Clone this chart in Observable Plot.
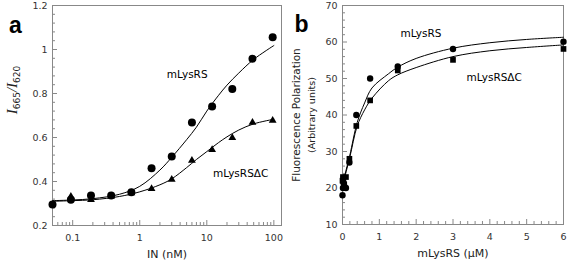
<!DOCTYPE html>
<html>
<head>
<meta charset="utf-8">
<script src="https://cdn.jsdelivr.net/npm/d3@7"></script>
<script src="https://cdn.jsdelivr.net/npm/@observablehq/plot@0.6"></script>
<style>
  html, body { margin: 0; padding: 0; background: #fff; }
  #wrap { position: relative; width: 567px; height: 264px; overflow: hidden; }
  #wrap svg { position: absolute; top: 0; }
</style>
</head>
<body>
<div id="wrap"></div>
<script>
// ---------- Panel a data ----------
const aConc = [0.05, 0.094, 0.1875, 0.375, 0.75, 1.5, 3, 6, 12, 24, 48, 96];
const aFull = [0.295, 0.317, 0.336, 0.336, 0.351, 0.46, 0.514, 0.668, 0.741, 0.821, 0.958, 1.056];
const aDeltaConc = [0.094, 0.1875, 0.375, 0.75, 1.5, 3, 6, 12, 24, 48, 96];
const aDelta = [0.332, 0.317, 0.333, 0.348, 0.367, 0.409, 0.495, 0.544, 0.599, 0.668, 0.677];
const aFitX = [0.05, 0.1, 0.2, 0.5, 1, 2, 3, 5, 7, 10, 15, 20, 30, 50, 100];
const aFitFull = [0.313, 0.316, 0.322, 0.342, 0.378, 0.452, 0.51, 0.59, 0.647, 0.72, 0.792, 0.838, 0.893, 0.955, 1.018];
const aFitDelta = [0.31, 0.313, 0.317, 0.332, 0.353, 0.385, 0.412, 0.463, 0.5, 0.536, 0.577, 0.603, 0.634, 0.662, 0.683];
const aXTicks = [0.1, 1, 10, 100];
const aXTickLabels = ["0.1", "1", "10", "100"];
const aYTicks = [0.2, 0.4, 0.6, 0.8, 1, 1.2];
const aYTickLabels = ["0.2", "0.4", "0.6", "0.8", "1", "1.2"];
const aLabels = [{x: 5.1, y: 0.886, text: "mLysRS"}, {x: 32, y: 0.436, text: "mLysRSΔC"}];

// ---------- Panel b data ----------
const bConc = [0, 0.012, 0.023, 0.047, 0.094, 0.1875, 0.375, 0.75, 1.5, 3, 6];
const bFull = [18, 20, 21.5, 20.5, 20, 27, 40, 50, 53.3, 58.1, 60.1];
const bDelta = [22, 23, 22.5, 21, 23, 28, 37, 44, 52.2, 55.1, 58.1];
const bFitX = [0, 0.1, 0.2, 0.4, 0.6, 0.8, 1.25, 1.5, 2, 3, 4, 5, 6];
const bFitFull = [20.5, 25, 29, 38, 43.3, 47.4, 51.3, 53.1, 55.5, 58.3, 59.8, 60.7, 61.3];
const bFitDelta = [20.5, 24.5, 28.5, 37, 41.4, 44.6, 49.4, 51, 53, 56, 57.6, 58.5, 59.2];
const bXTicks = [0, 1, 2, 3, 4, 5, 6];
const bYTicks = [10, 20, 30, 40, 50, 60, 70];
const bLabels = [{x: 2.13, y: 62.3, text: "mLysRS"}, {x: 4.12, y: 50.3, text: "mLysRSΔC"}];

// helpers
const pts = (xs, ys) => xs.map((x, i) => ({x, y: ys[i]}));
const range = (a, b, s) => d3.range(Math.round((b - a) / s) + 1).map(i => +(a + i * s).toFixed(6));

const axisColor = "#888";
const tickText = "#333";
const txtFont = "DejaVu Sans";

// minor ticks (log decades)
const aXMinor = [];
for (const dec of [0.01, 0.1, 1, 10, 100]) for (let k = 1; k <= 9; k++) {
  const v = +(k * dec).toPrecision(3);
  if (v >= 0.05 && v <= 130 && !aXTicks.includes(v)) aXMinor.push(v);
}
const aYMinor = range(0.2, 1.2, 0.04).filter(v => !aYTicks.some(t => Math.abs(t - v) < 1e-6));
const bXMinor = range(0, 6, 0.2).filter(v => !bXTicks.some(t => Math.abs(t - v) < 1e-6));
const bYMinor = range(10, 70, 2).filter(v => !bYTicks.some(t => Math.abs(t - v) < 1e-6));

// ---------- Panel a ----------
const plotA = Plot.plot({
  width: 290, height: 264,
  marginLeft: 52, marginRight: 9, marginTop: 5, marginBottom: 39,
  style: {fontFamily: txtFont, fontSize: "9.5px", background: "transparent"},
  x: {type: "log", domain: [0.05, 130]},
  y: {domain: [0.2, 1.2]},
  marks: [
    Plot.frame({stroke: axisColor}),
    Plot.axisX({ticks: aXMinor, tickSize: -3, tickFormat: () => "", stroke: axisColor, label: null}),
    Plot.axisX({ticks: aXTicks, tickSize: -5, tickFormat: () => "", stroke: axisColor, label: null}),
    Plot.axisX({ticks: aXTicks, tickSize: 0, tickPadding: 9, tickFormat: d => aXTickLabels[aXTicks.indexOf(d)], fill: tickText, label: null}),
    Plot.axisY({ticks: aYMinor, tickSize: -3, tickFormat: () => "", stroke: axisColor, label: null}),
    Plot.axisY({ticks: aYTicks, tickSize: -5, tickFormat: () => "", stroke: axisColor, label: null}),
    Plot.axisY({ticks: aYTicks, tickSize: 0, tickPadding: 5, tickFormat: d => aYTickLabels[aYTicks.indexOf(d)], fill: tickText, label: null}),
    Plot.line(pts(aFitX, aFitFull), {x: "x", y: "y", stroke: "#000", strokeWidth: 1, curve: "catmull-rom"}),
    Plot.line(pts(aFitX, aFitDelta), {x: "x", y: "y", stroke: "#000", strokeWidth: 1, curve: "catmull-rom"}),
    Plot.dot(pts(aDeltaConc, aDelta), {x: "x", y: "y", symbol: "triangle", r: 2.9, fill: "#000", stroke: "none"}),
    Plot.dot(pts(aConc, aFull), {x: "x", y: "y", r: 4, fill: "#000", stroke: "none"}),
    Plot.text(aLabels, {x: "x", y: "y", text: "text", fontSize: 10.5, fill: "#000", fontFamily: txtFont}),
    Plot.text(["IN (nM)"], {frameAnchor: "bottom", dy: 32, fontSize: 11, fill: "#222"}),
    Plot.text(["a"], {frameAnchor: "top-left", textAnchor: "middle", dx: -37, dy: 11, fontSize: 23, fontWeight: "bold", fontFamily: "Liberation Sans", fill: "#000"})
  ]
});
plotA.style.left = "0px";
// y-axis title with subscripts
const ta = d3.select(plotA).append("text")
  .attr("transform", "translate(17,90) rotate(-90)")
  .attr("text-anchor", "middle")
  .attr("font-family", "Liberation Serif")
  .attr("font-style", "italic")
  .attr("font-size", 15)
  .attr("fill", "#222");
ta.append("tspan").text("I");
ta.append("tspan").attr("font-size", 9).attr("dy", 3).attr("font-family", "DejaVu Sans").attr("font-style", "normal").text("665");
ta.append("tspan").attr("dy", -3).text("/I");
ta.append("tspan").attr("font-size", 9).attr("dy", 3).attr("font-family", "DejaVu Sans").attr("font-style", "normal").text("620");

// ---------- Panel b ----------
const plotB = Plot.plot({
  width: 287, height: 264,
  marginLeft: 62, marginRight: 4, marginTop: 5, marginBottom: 40,
  style: {fontFamily: txtFont, fontSize: "9.5px", background: "transparent", overflow: "visible"},
  x: {domain: [0, 6]},
  y: {domain: [10, 70]},
  marks: [
    Plot.frame({stroke: axisColor}),
    Plot.axisX({ticks: bXMinor, tickSize: -3, tickFormat: () => "", stroke: axisColor, label: null}),
    Plot.axisX({ticks: bXTicks, tickSize: -5, tickFormat: () => "", stroke: axisColor, label: null}),
    Plot.axisX({ticks: bXTicks, tickSize: 0, tickPadding: 9, tickFormat: d => String(d), fill: tickText, label: null}),
    Plot.axisY({ticks: bYMinor, tickSize: -3, tickFormat: () => "", stroke: axisColor, label: null}),
    Plot.axisY({ticks: bYTicks, tickSize: -5, tickFormat: () => "", stroke: axisColor, label: null}),
    Plot.axisY({ticks: bYTicks, tickSize: 0, tickPadding: 5, tickFormat: d => String(d), fill: tickText, label: null}),
    Plot.line(pts(bFitX, bFitFull), {x: "x", y: "y", stroke: "#000", strokeWidth: 1, curve: "catmull-rom"}),
    Plot.line(pts(bFitX, bFitDelta), {x: "x", y: "y", stroke: "#000", strokeWidth: 1, curve: "catmull-rom"}),
    Plot.dot(pts(bConc, bFull), {x: "x", y: "y", r: 3.2, fill: "#000", stroke: "none"}),
    Plot.dot(pts(bConc, bDelta), {x: "x", y: "y", symbol: "square", r: 3.2, fill: "#000", stroke: "none"}),
    Plot.text(bLabels, {x: "x", y: "y", text: "text", fontSize: 10.5, fill: "#000", fontFamily: txtFont}),
    Plot.text(["mLysRS (μM)"], {frameAnchor: "bottom", dy: 32, fontSize: 11, fill: "#222"}),
    Plot.text(["Fluorescence Polarization"], {frameAnchor: "left", textAnchor: "middle", dx: -46, rotate: -90, fontSize: 10.5, fill: "#222"}),
    Plot.text(["(Arbitrary units)"], {frameAnchor: "left", textAnchor: "middle", dx: -31, rotate: -90, fontSize: 9.5, fill: "#222"}),
    Plot.text(["b"], {frameAnchor: "top-left", textAnchor: "middle", dx: -41, dy: 10, fontSize: 23, fontWeight: "bold", fontFamily: "Liberation Sans", fill: "#000"})
  ]
});
plotB.style.left = "280px";

document.getElementById("wrap").append(plotA, plotB);
</script>
</body>
</html>
